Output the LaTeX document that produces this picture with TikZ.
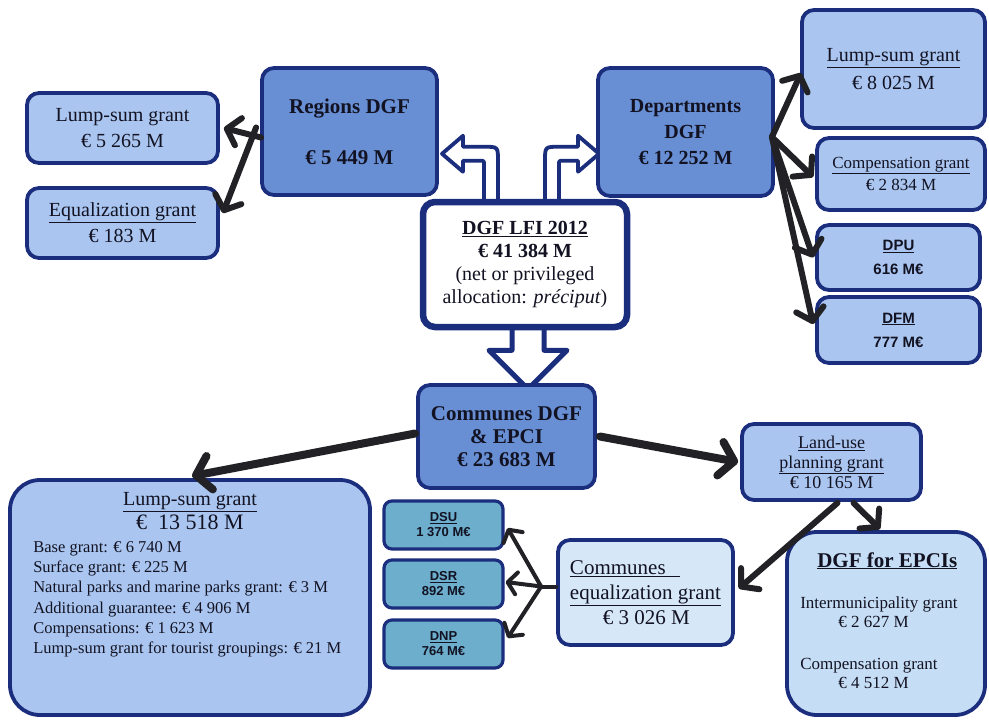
\documentclass[tikz,border=0pt]{standalone}
\usepackage{fontspec}
\setmainfont{Liberation Serif}
\setsansfont{Liberation Sans}
\usetikzlibrary{arrows.meta,calc,backgrounds}
\definecolor{navy}{RGB}{27,45,125}
\definecolor{darkfill}{RGB}{104,143,212}
\definecolor{lightfill}{RGB}{170,198,240}
\definecolor{tealfill}{RGB}{108,174,204}
\definecolor{palefill}{RGB}{214,232,248}
\definecolor{epcifill}{RGB}{198,222,245}
\definecolor{ink}{RGB}{18,18,34}
\definecolor{arrowc}{RGB}{34,34,38}
\begin{document}
\begin{tikzpicture}[x=1pt,y=-1pt,
  box/.style={draw=navy, line width=3.8pt, rounded corners=12pt, inner sep=0pt, align=center, text=ink},
  dark/.style={box, fill=darkfill},
  light/.style={box, fill=lightfill},
  teal/.style={box, fill=tealfill, rounded corners=8pt, line width=3.2pt},
  txt/.style={inner sep=0pt, text=ink},
  hollow/.style={draw=navy, line width=3.8pt, fill=white, line join=round},
  arr/.style={draw=arrowc, line width=8pt, line cap=round, -{Straight Barb[length=14pt,width=34pt,round]}},
  arrs/.style={draw=arrowc, line width=6pt, line cap=round, -{Straight Barb[length=12pt,width=28pt,round]}},
  arrt/.style={draw=arrowc, line width=4pt, line cap=round, -{Straight Barb[length=9pt,width=22pt,round]}},
  plain/.style={draw=arrowc, line width=4pt, line cap=round}
]
\useasboundingbox (0,0) rectangle (989,720);

% top level
\node[box, fill=white, line width=6.5pt, minimum width=204pt, minimum height=125pt,
      font=\fontsize{20}{23}\selectfont] (lfi) at (525,264.5)
  {{\bfseries\underline{DGF LFI 2012}}\\{\bfseries € 41 384 M}\\(net or privileged\\allocation: \textit{préciput})};

\node[dark, minimum width=175pt, minimum height=127pt, font=\bfseries\fontsize{21}{25}\selectfont] (reg) at (349.5,131.5)
  {Regions DGF\\[26pt]€ 5 449 M};
\node[light, minimum width=191pt, minimum height=70pt, font=\fontsize{20}{26}\selectfont] (ls1) at (122.5,128)
  {Lump-sum grant\\€ 5 265 M};
\node[light, minimum width=191pt, minimum height=70pt, font=\fontsize{20}{26}\selectfont] (eq1) at (122.5,223)
  {\underline{Equalization grant}\\€ 183 M};

\node[dark, minimum width=175pt, minimum height=128pt, font=\bfseries\fontsize{20}{26}\selectfont] (dep) at (685.5,132)
  {Departments\\DGF\\€ 12 252 M};
\node[light, minimum width=183pt, minimum height=118pt, font=\fontsize{20}{28}\selectfont] (ls2) at (893.5,69)
  {\underline{Lump-sum grant}\\€ 8 025 M};
\node[light, minimum width=168pt, minimum height=72pt, font=\fontsize{17}{22}\selectfont] (comp) at (901,174)
  {\underline{Compensation grant}\\€ 2 834 M};
\node[light, minimum width=163pt, minimum height=65pt, font=\sffamily\bfseries\fontsize{15}{24}\selectfont] (dpu) at (898.5,257.5)
  {\underline{DPU}\\616 M€};
\node[light, minimum width=163pt, minimum height=66pt, font=\sffamily\bfseries\fontsize{15}{24}\selectfont] (dfm) at (898.5,330)
  {\underline{DFM}\\777 M€};

% communes level
\node[dark, minimum width=177pt, minimum height=103pt, font=\bfseries\fontsize{21}{23}\selectfont] (com) at (506.5,436.5)
  {Communes DGF\\\& EPCI\\€ 23 683 M};
\node[light, minimum width=179pt, minimum height=76pt, font=\fontsize{18}{20}\selectfont] (lu) at (831.5,462)
  {\underline{Land-use}\\\underline{planning grant}\\€ 10 165 M};

\node[light, rounded corners=30pt, minimum width=360pt, minimum height=235pt] (ls3) at (190,597.5) {};
\node[txt, anchor=north, align=center, font=\fontsize{20}{24}\selectfont] (ls3h) at ($(ls3.north)+(0,14)$)
  {\underline{Lump-sum grant}\\{\fontsize{22}{24}\selectfont €\ \ 13 518 M}};
\node[txt, anchor=north west, align=left, font=\fontsize{16.5}{20.3}\selectfont] (ls3b) at ($(ls3.north west)+(25,63)$)
  {Base grant: € 6 740 M\\Surface grant: € 225 M\\Natural parks and marine parks grant: € 3 M\\Additional guarantee: € 4 906 M\\Compensations: € 1 623 M\\Lump-sum grant for tourist groupings: € 21 M};

\node[teal, minimum width=119pt, minimum height=48pt, font=\sffamily\bfseries\fontsize{13}{15}\selectfont] (dsu) at (443.5,525)
  {\underline{DSU}\\1 370 M€};
\node[teal, minimum width=119pt, minimum height=48pt, font=\sffamily\bfseries\fontsize{13}{15}\selectfont] (dsr) at (443.5,584)
  {\underline{DSR}\\892 M€};
\node[teal, minimum width=119pt, minimum height=48pt, font=\sffamily\bfseries\fontsize{13}{15}\selectfont] (dnp) at (443.5,644)
  {\underline{DNP}\\764 M€};

\node[box, fill=palefill, align=left, minimum width=175pt, minimum height=105pt, font=\fontsize{21}{25}\selectfont] (ceq) at (645.5,592.5)
  {\underline{Communes\hspace*{14pt}}\\\underline{equalization grant}\\\hspace*{33pt}€ 3 026 M};

\node[box, fill=epcifill, rounded corners=30pt, minimum width=198pt, minimum height=183pt] (epci) at (886,623.5) {};
\node[txt, anchor=north west, align=left, font=\fontsize{17}{19}\selectfont] (epcit) at ($(epci.north west)+(15,22)$)
  {\hspace*{17pt}{\bfseries\fontsize{21}{23}\selectfont\underline{DGF for EPCIs}}\\[22pt]Intermunicipality grant\\\hspace*{38pt}€ 2 627 M\\[23pt]Compensation grant\\\hspace*{38pt}€ 4 512 M};

% hollow arrows (behind boxes)
\begin{pgfonlayer}{background}
\fill[white] (0,0) rectangle (989,720);
\begin{scope}[shift={(lfi.north)}]
  \draw[hollow] (-27,8) -- (-27,-38) .. controls (-27,-52) .. (-41,-52) -- (-62,-52) -- (-62,-63) -- (-83,-45)
     -- (-62,-27) -- (-62,-38) -- (-45,-38) .. controls (-41,-38) .. (-41,-34) -- (-41,8) -- cycle;
  \draw[hollow] (20,8) -- (20,-38) .. controls (20,-52) .. (34,-52) -- (53,-52) -- (53,-63) -- (74,-45)
     -- (53,-27) -- (53,-38) -- (38,-38) .. controls (34,-38) .. (34,-34) -- (34,8) -- cycle;
\end{scope}
\begin{scope}[shift={(lfi.south)}]
  \draw[hollow, line width=5pt] (-13,-8) -- (-13,20) -- (-36,20) -- (3,59) -- (42,20) -- (19,20) -- (19,-8) -- cycle;
\end{scope}
\end{pgfonlayer}

% black arrows
\draw[arrs] ($(reg.west)+(1,6)$) -- ($(ls1.east)+(4,0)$);
\draw[arrs] ($(reg.west)+(-4,-4)$) -- ($(eq1.east)+(3,-10)$);

\coordinate (dsrc) at ($(dep.east)+(-3,5)$);
\draw[arrs] (dsrc) -- ($(ls2.west)+(1,4)$);
\draw[arrs] (dsrc) -- ($(comp.west)+(-2,3)$);
\draw[arrs] (dsrc) -- ($(dpu.west)+(-2,0)$);
\draw[arrs] (dsrc) -- ($(dfm.west)+(-2,-6)$);

\draw[arr] ($(com.west)+(-1,-3)$) -- ($(ls3.north)+(2,-2)$);
\draw[arr] ($(com.east)+(3,0)$) -- ($(lu.west)+(-2,0)$);
\draw[arrs] ($(lu.south)+(22,1)$) -- ($(epci.north)+(-6,-1)$);
\draw[arrs] ($(lu.south)+(6,1)$) -- ($(ceq.east)+(4,-4)$);

\coordinate (jn) at ($(ceq.west)+(-15,-6)$);
\draw[plain] ($(ceq.west)+(0,-6)$) -- (jn);
\draw[arrt] (jn) -- ($(dsu.east)+(3,3)$);
\draw[arrt] (jn) -- ($(dsr.east)+(1,-2)$);
\draw[arrt] (jn) -- ($(dnp.east)+(3,-6)$);
\end{tikzpicture}
\end{document}
